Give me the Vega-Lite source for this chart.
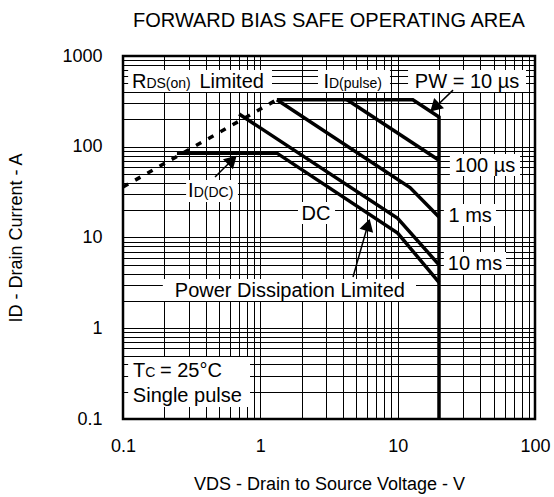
{
  "$schema": "https://vega.github.io/schema/vega-lite/v6.json",
  "width": 412,
  "height": 363,
  "autosize": {"type": "none"},
  "padding": {"left": 123, "top": 56, "right": 19, "bottom": 78},
  "background": "white",
  "title": {"text": "FORWARD BIAS SAFE OPERATING AREA", "font": "Liberation Sans", "fontSize": 20, "fontWeight": "normal", "color": "#000", "anchor": "middle", "frame": "group", "baseline": "alphabetic", "offset": 0},
  "config": {
    "view": {"stroke": "#000", "strokeWidth": 2.5},
    "axis": {"labelFont": "Liberation Sans", "labelFontSize": 18, "labelColor": "#000", "titleFont": "Liberation Sans", "titleFontSize": 18, "titleFontWeight": "normal", "titleColor": "#000", "domain": false, "ticks": false, "grid": true, "gridColor": "#000", "gridWidth": 1, "gridOpacity": 1, "labelFlush": false, "labelOverlap": false, "format": "~g"},
    "text": {"font": "Liberation Sans", "color": "#000"}
  },
  "datasets": {
    "lines": [
      {"s": "10us", "o": 1, "x": 1.32, "y": 330}, {"s": "10us", "o": 2, "x": 12.9, "y": 330}, {"s": "10us", "o": 3, "x": 20, "y": 213}, {"s": "10us", "o": 4, "x": 20, "y": 0.1},
      {"s": "100us", "o": 1, "x": 4.28, "y": 330}, {"s": "100us", "o": 2, "x": 20, "y": 71},
      {"s": "1ms", "o": 1, "x": 1.32, "y": 330}, {"s": "1ms", "o": 2, "x": 12.3, "y": 35.5}, {"s": "1ms", "o": 3, "x": 20, "y": 16.8},
      {"s": "10ms", "o": 1, "x": 0.70, "y": 230}, {"s": "10ms", "o": 2, "x": 10.0, "y": 16.3}, {"s": "10ms", "o": 3, "x": 20, "y": 5.0},
      {"s": "DC", "o": 1, "x": 0.247, "y": 85}, {"s": "DC", "o": 2, "x": 1.32, "y": 85}, {"s": "DC", "o": 3, "x": 10.0, "y": 11.2}, {"s": "DC", "o": 4, "x": 20, "y": 3.2}
    ],
    "rds": [{"x": 0.1, "y": 36}, {"x": 1.32, "y": 330}],
    "boxes": [
      {"x": 0.109, "x2": 1.216, "y": 701, "y2": 401},
      {"x": 2.63, "x2": 8.79, "y": 701, "y2": 401},
      {"x": 11.9, "x2": 86, "y": 701, "y2": 401},
      {"x": 24.0, "x2": 77.8, "y": 83.2, "y2": 47.6},
      {"x": 21.7, "x2": 52, "y": 23.4, "y2": 13.4},
      {"x": 21.7, "x2": 61.5, "y": 6.92, "y2": 3.96},
      {"x": 0.195, "x2": 13.6, "y": 3.49, "y2": 2.0},
      {"x": 1.88, "x2": 3.50, "y": 24.6, "y2": 14.1},
      {"x": 0.288, "x2": 0.687, "y": 43, "y2": 24.6},
      {"x": 0.109, "x2": 0.841, "y": 0.482, "y2": 0.1355}
    ],
    "bigCenter": [
      {"t": "PW = 10 µs", "x": 32.0, "y": 444},
      {"t": "100 µs", "x": 43.3, "y": 52.7},
      {"t": "1 ms", "x": 33.7, "y": 14.8},
      {"t": "10 ms", "x": 36.6, "y": 4.39},
      {"t": "Power Dissipation Limited", "x": 1.64, "y": 2.21},
      {"t": "DC", "x": 2.54, "y": 15.6}
    ],
    "bigRight": [
      {"t": "R", "x": 0.148, "y": 444},
      {"t": "I", "x": 3.16, "y": 444},
      {"t": "I", "x": 0.327, "y": 27.9},
      {"t": "T", "x": 0.145, "y": 0.29}
    ],
    "smallLeft": [
      {"t": "DS(on)", "x": 0.148, "y": 444},
      {"t": "D(pulse)", "x": 3.16, "y": 444},
      {"t": "D(DC)", "x": 0.327, "y": 27.9},
      {"t": "C", "x": 0.145, "y": 0.29}
    ],
    "bigLeft": [
      {"t": "Limited", "x": 0.36, "y": 444},
      {"t": "= 25°C", "x": 0.186, "y": 0.29},
      {"t": "Single pulse", "x": 0.118, "y": 0.154}
    ],
    "arrows": [
      {"a": 1, "x": 25.3, "y": 421, "x2": 17.6, "y2": 248},
      {"a": 2, "x": 0.468, "y": 46.4, "x2": 0.655, "y2": 77},
      {"a": 3, "x": 4.73, "y": 3.67, "x2": 6.2, "y2": 15.5}
    ],
    "heads": [
      {"a": 1, "x": 18.6, "y": 272},
      {"a": 2, "x": 0.625, "y": 71.5},
      {"a": 3, "x": 6.08, "y": 13.8}
    ]
  },
  "encoding": {
    "x": {"field": "x", "type": "quantitative", "scale": {"type": "log", "domain": [0.1, 100], "nice": false},
      "axis": {"title": "VDS - Drain to Source Voltage - V", "values": [0.1,0.2,0.3,0.4,0.5,0.6,0.7,0.8,0.9,1,2,3,4,5,6,7,8,9,10,20,30,40,50,60,70,80,90,100],
        "labelExpr": "(datum.value==0.1||datum.value==1||datum.value==10||datum.value==100) ? datum.label : ''", "labelPadding": 18, "titlePadding": 20}},
    "y": {"field": "y", "type": "quantitative", "scale": {"type": "log", "domain": [0.1, 1000], "nice": false},
      "axis": {"title": "ID - Drain Current - A", "values": [0.1,0.2,0.3,0.4,0.5,0.6,0.7,0.8,0.9,1,2,3,4,5,6,7,8,9,10,20,30,40,50,60,70,80,90,100,200,300,400,500,600,700,800,900,1000],
        "labelExpr": "(datum.value==0.1||datum.value==1||datum.value==10||datum.value==100||datum.value==1000) ? datum.label : ''", "labelPadding": 21, "titlePadding": 36}}
  },
  "layer": [
    {"data": {"name": "boxes"}, "mark": {"type": "rect", "fill": "white", "stroke": null},
      "encoding": {"x2": {"field": "x2"}, "y2": {"field": "y2"}}},
    {"data": {"name": "lines"}, "mark": {"type": "line", "color": "#000", "strokeWidth": 3.5, "strokeJoin": "miter", "strokeCap": "butt"},
      "encoding": {"detail": {"field": "s"}, "order": {"field": "o", "type": "quantitative"}}},
    {"data": {"name": "rds"}, "mark": {"type": "line", "color": "#000", "strokeWidth": 3.5, "strokeDash": [6, 8], "strokeCap": "butt"}, "encoding": {}},
    {"data": {"name": "bigCenter"}, "mark": {"type": "text", "fontSize": 20, "align": "center", "baseline": "alphabetic"},
      "encoding": {"text": {"field": "t"}}},
    {"data": {"name": "bigRight"}, "mark": {"type": "text", "fontSize": 20, "align": "right", "baseline": "alphabetic"},
      "encoding": {"text": {"field": "t"}}},
    {"data": {"name": "smallLeft"}, "mark": {"type": "text", "fontSize": 14, "align": "left", "baseline": "alphabetic"},
      "encoding": {"text": {"field": "t"}}},
    {"data": {"name": "bigLeft"}, "mark": {"type": "text", "fontSize": 20, "align": "left", "baseline": "alphabetic"},
      "encoding": {"text": {"field": "t"}}},
    {"data": {"name": "arrows"}, "mark": {"type": "rule", "color": "#000", "strokeWidth": 1.5},
      "encoding": {"x2": {"field": "x2"}, "y2": {"field": "y2"}}},
    {"data": {"name": "heads"}, "transform": [{"filter": "datum.a == 1"}], "mark": {"type": "point", "shape": "triangle-up", "filled": true, "color": "#000", "opacity": 1, "size": 200, "angle": 226}},
    {"data": {"name": "heads"}, "transform": [{"filter": "datum.a == 2"}], "mark": {"type": "point", "shape": "triangle-up", "filled": true, "color": "#000", "opacity": 1, "size": 200, "angle": 45}},
    {"data": {"name": "heads"}, "transform": [{"filter": "datum.a == 3"}], "mark": {"type": "point", "shape": "triangle-up", "filled": true, "color": "#000", "opacity": 1, "size": 200, "angle": 16}}
  ]
}
